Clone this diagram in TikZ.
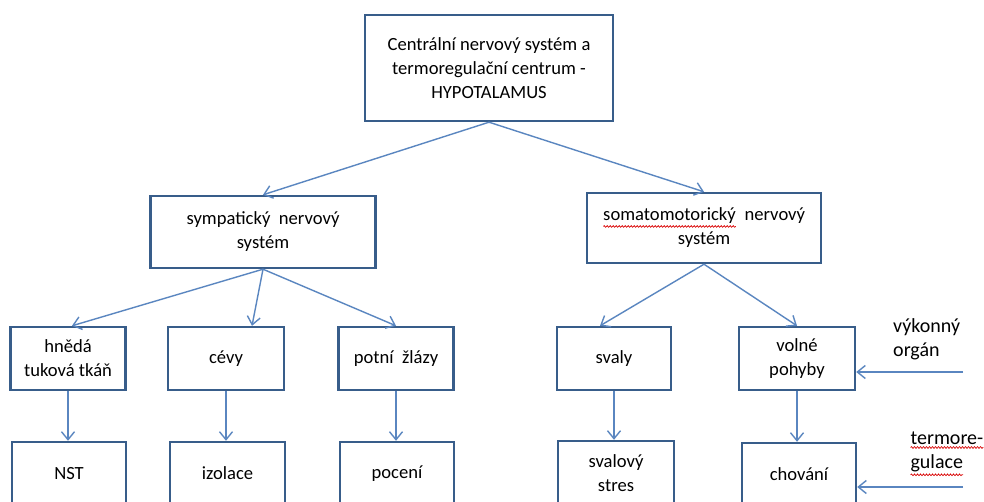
\documentclass[tikz,border=0pt]{standalone}
\usepackage{fontspec}
\setmainfont{Carlito}
\usetikzlibrary{arrows.meta,decorations.pathmorphing}
\definecolor{boxline}{HTML}{385D8A}
\definecolor{conn}{HTML}{5A86C0}
\newcommand\spellwavy[1]{\tikz[baseline=(w.base),x=1pt,y=1pt]{\node[inner sep=0pt,outer sep=0pt,minimum width=0pt,minimum height=0pt,draw=none,fill=none](w){#1};\draw[red!85!black,line width=0.7pt,decorate,decoration={snake,amplitude=0.8pt,segment length=3pt}] ([yshift=-2.5pt]w.south west)--([yshift=-2.5pt]w.south east);}}
\tikzset{
  box/.style={draw=boxline,line width=2.4pt,fill=white,align=center,inner sep=2pt,
    font=\fontsize{18.6}{24}\selectfont},
  conarrow/.style={draw=conn,line width=1.4pt,-{Straight Barb[length=8pt,width=13pt,line width=1.4pt]}},
  sidelabel/.style={align=left,anchor=north west,inner sep=0pt,font=\fontsize{20}{24}\selectfont}
}
\begin{document}
\begin{tikzpicture}[x=1pt,y=-1pt]
\clip (0,0) rectangle (984,502);
\fill[white] (0,0) rectangle (984,502);

\node[box,minimum width=248pt,minimum height=106pt] (top) at (489,68)
  {Centrální nervový systém a\\termoregulační centrum -\\HYPOTALAMUS};
\node[box,minimum width=225pt,minimum height=72pt] (symp) at (263,232)
  {sympatický\ \ nervový\\systém};
\node[box,minimum width=234pt,minimum height=70pt] (soma) at (704,228)
  {\spellwavy{somatomotorický}\ \ nervový\\systém};

\node[box,minimum width=115pt,minimum height=63pt] (hned) at (68,358.5) {hnědá\\tuková\ tkáň};
\node[box,minimum width=116pt,minimum height=63pt] (cevy) at (226,358.5) {cévy};
\node[box,minimum width=115pt,minimum height=63pt] (potni) at (396,358.5) {potní\ \ žlázy};
\node[box,minimum width=114pt,minimum height=63pt] (svaly) at (614,358.5) {svaly};
\node[box,minimum width=116pt,minimum height=63pt] (volne) at (797,358.5) {volné\\pohyby};

\node[box,minimum width=114pt,minimum height=63pt] (nst) at (69,473.5) {NST};
\node[box,minimum width=115pt,minimum height=63pt] (izol) at (227.5,473.5) {izolace};
\node[box,minimum width=114pt,minimum height=63pt] (poceni) at (397,473.5) {pocení};
\node[box,minimum width=116pt,minimum height=64pt] (svstres) at (616,473) {svalový\\stres};
\node[box,minimum width=114pt,minimum height=62pt] (chov) at (799,474) {chování};

\node[sidelabel] (vyk) at (893,318) {výkonný\\orgán};
\node[sidelabel] (term) at (910,432) {\spellwavy{termore-}\\\spellwavy{gulace}};

\coordinate (in1) at (963,372);
\coordinate (in2) at (963,487);

\draw[conarrow] (top.south) -- (symp.north);
\draw[conarrow] (top.south) -- (soma.north);
\draw[conarrow] (symp.south) -- ([xshift=4pt]hned.north);
\draw[conarrow] (symp.south) -- ([xshift=26pt]cevy.north);
\draw[conarrow] (symp.south) -- (potni.north);
\draw[conarrow] (soma.south) -- ([xshift=-14pt]svaly.north);
\draw[conarrow] (soma.south) -- (volne.north);

\draw[conarrow] (hned.south) -- (hned.south |- nst.north);
\draw[conarrow] (cevy.south) -- (cevy.south |- izol.north);
\draw[conarrow] (potni.south) -- (potni.south |- poceni.north);
\draw[conarrow] (svaly.south) -- (svaly.south |- svstres.north);
\draw[conarrow] (volne.south) -- (volne.south |- chov.north);

\draw[conarrow] (in1) -- (in1 -| volne.east);
\draw[conarrow] (in2) -- (in2 -| chov.east);
\end{tikzpicture}
\end{document}
